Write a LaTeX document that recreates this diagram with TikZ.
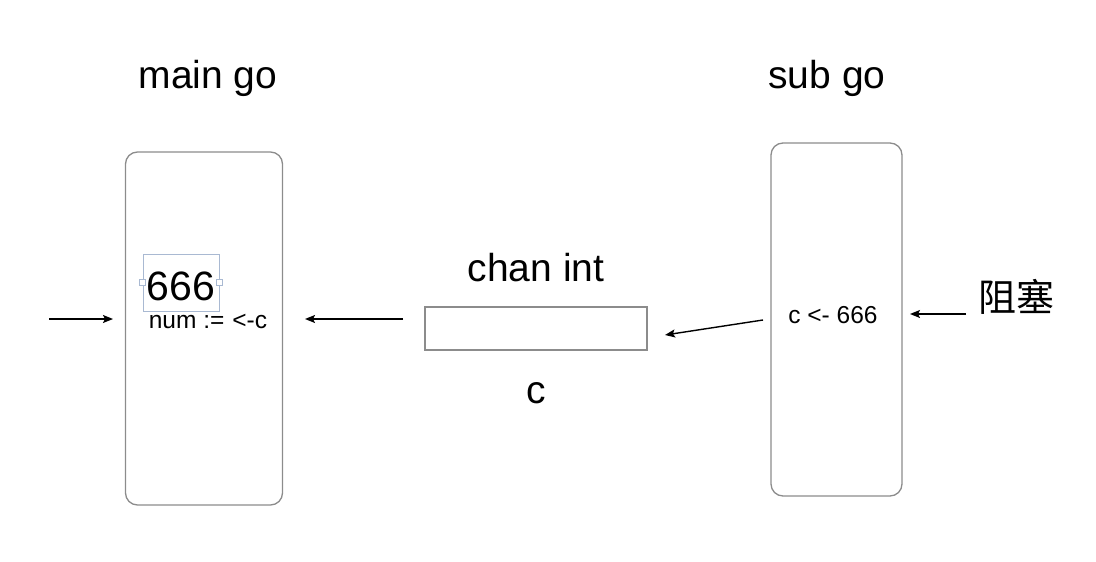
\documentclass[tikz,border=0pt]{standalone}
\usepackage{fontspec}
\setmainfont{Liberation Sans}
\newfontfamily\cjk{Noto Sans CJK SC}
\usetikzlibrary{arrows.meta}
\definecolor{boxgray}{HTML}{8C8C8C}
\definecolor{selblue}{HTML}{A9B9D2}
\begin{document}
\begin{tikzpicture}[x=1pt,y=-1pt,
  gobox/.style={draw=boxgray, line width=1.3pt, rounded corners=12pt, inner sep=0pt},
  chanbox/.style={draw=boxgray, line width=1.3pt, inner sep=0pt},
  big/.style={font=\fontsize{39}{45}\selectfont, inner sep=0pt, anchor=base},
  small/.style={font=\fontsize{24.5}{28}\selectfont, inner sep=0pt, anchor=base},
  arr/.style={line width=1.4pt, -{Stealth[length=10pt,width=8pt,inset=2pt]}},
  handle/.style={draw=selblue, fill=white, line width=0.8pt, minimum size=6pt, inner sep=0pt}]
\useasboundingbox (0,0) rectangle (1096,562);
% boxes
\node[gobox, minimum width=157pt, minimum height=353pt] (mainbox) at (204,328.5) {};
\node[gobox, minimum width=131pt, minimum height=353pt] (subbox) at (836.5,319.5) {};
\node[chanbox, minimum width=222pt, minimum height=43pt] (chanrect) at (536,328.5) {};
% titles
\node[big] (maintitle) at (208,88) {main go};
\node[big] (subtitle) at (827,88) {sub go};
\node[big] (chantitle) at (536,281) {chan int};
\node[big] (clabel) at (536,403) {c};
% selection box around 666
\node[draw=selblue, line width=0.8pt, minimum width=76pt, minimum height=57pt, inner sep=0pt] (sel) at (181,282.5) {};
\node[handle] (hl) at (sel.west) {};
\node[handle] (hr) at (sel.east) {};
\node[big, font=\fontsize{41}{46}\selectfont] (six) at (181,300) {666};
\node[small] (numtxt) at (208,328) {num :=\hspace{8pt}<-c};
\node[small] (sendtxt) at (833,323) {c <- 666};
\node[font=\cjk\fontsize{38}{44}\selectfont, inner sep=0pt] (block) at (1016,297) {阻塞};
% arrow end points
\coordinate (a1s) at (49,319);
\coordinate (a1e) at (113,319);
\coordinate (a2s) at (403,319);
\coordinate (a2e) at (305,319);
\coordinate (a3s) at (763,320);
\coordinate (a3e) at (665,335);
\coordinate (a4s) at (966,314);
\coordinate (a4e) at (910,314);
\draw[arr] (a1s) -- (a1e);
\draw[arr] (a2s) -- (a2e);
\draw[arr] (a3s) -- (a3e);
\draw[arr] (a4s) -- (a4e);
\end{tikzpicture}
\end{document}
